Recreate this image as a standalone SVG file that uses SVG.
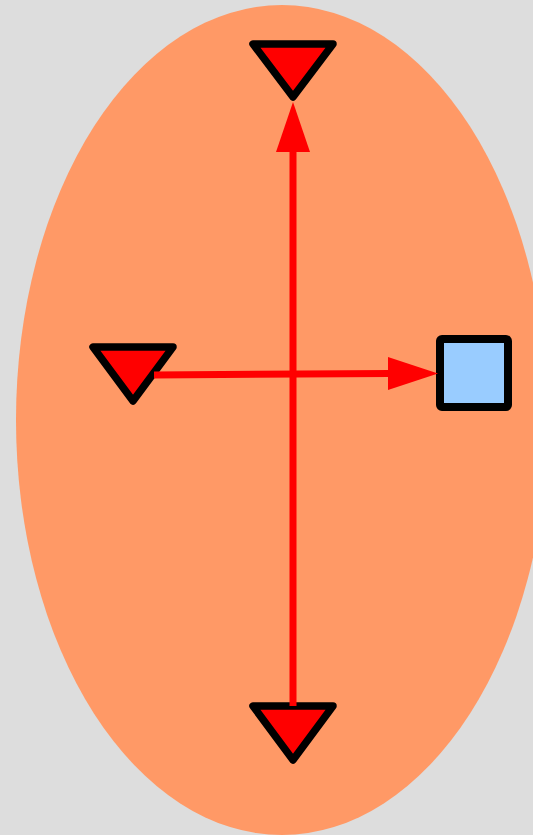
<svg xmlns="http://www.w3.org/2000/svg" width="533" height="835" viewBox="0 0 533 835">
<style>
.tri{fill:#ff0000;stroke:#000;stroke-width:7.5;stroke-linejoin:round}
.box{fill:#99ccff;stroke:#000;stroke-width:8;stroke-linejoin:round}
.edge{stroke:#ff0000;stroke-width:7;fill:none}
.head{fill:#ff0000}
</style>
<rect width="533" height="835" fill="#dddddd"/>
<g id="region">
<ellipse cx="282" cy="420" rx="266" ry="415" fill="#ff9966"/>
</g>
<g id="node-top"><polygon class="tri" points="253,44 333,44 293,97"/></g>
<g id="node-left"><polygon class="tri" points="93,347 173,347 133,401"/></g>
<g id="node-bottom"><polygon class="tri" points="253,706 333,706 293,760"/></g>
<g id="node-right"><rect class="box" x="440" y="339" width="68" height="68" rx="2"/></g>
<g id="connectors">
<line class="edge" x1="293" y1="706" x2="293" y2="150"/>
<polygon class="head" points="293,102 276,152 310,152"/>
<line class="edge" x1="154" y1="375" x2="390" y2="373.5"/>
<polygon class="head" points="438,373.5 388,357 388,390"/>
</g>
</svg>
